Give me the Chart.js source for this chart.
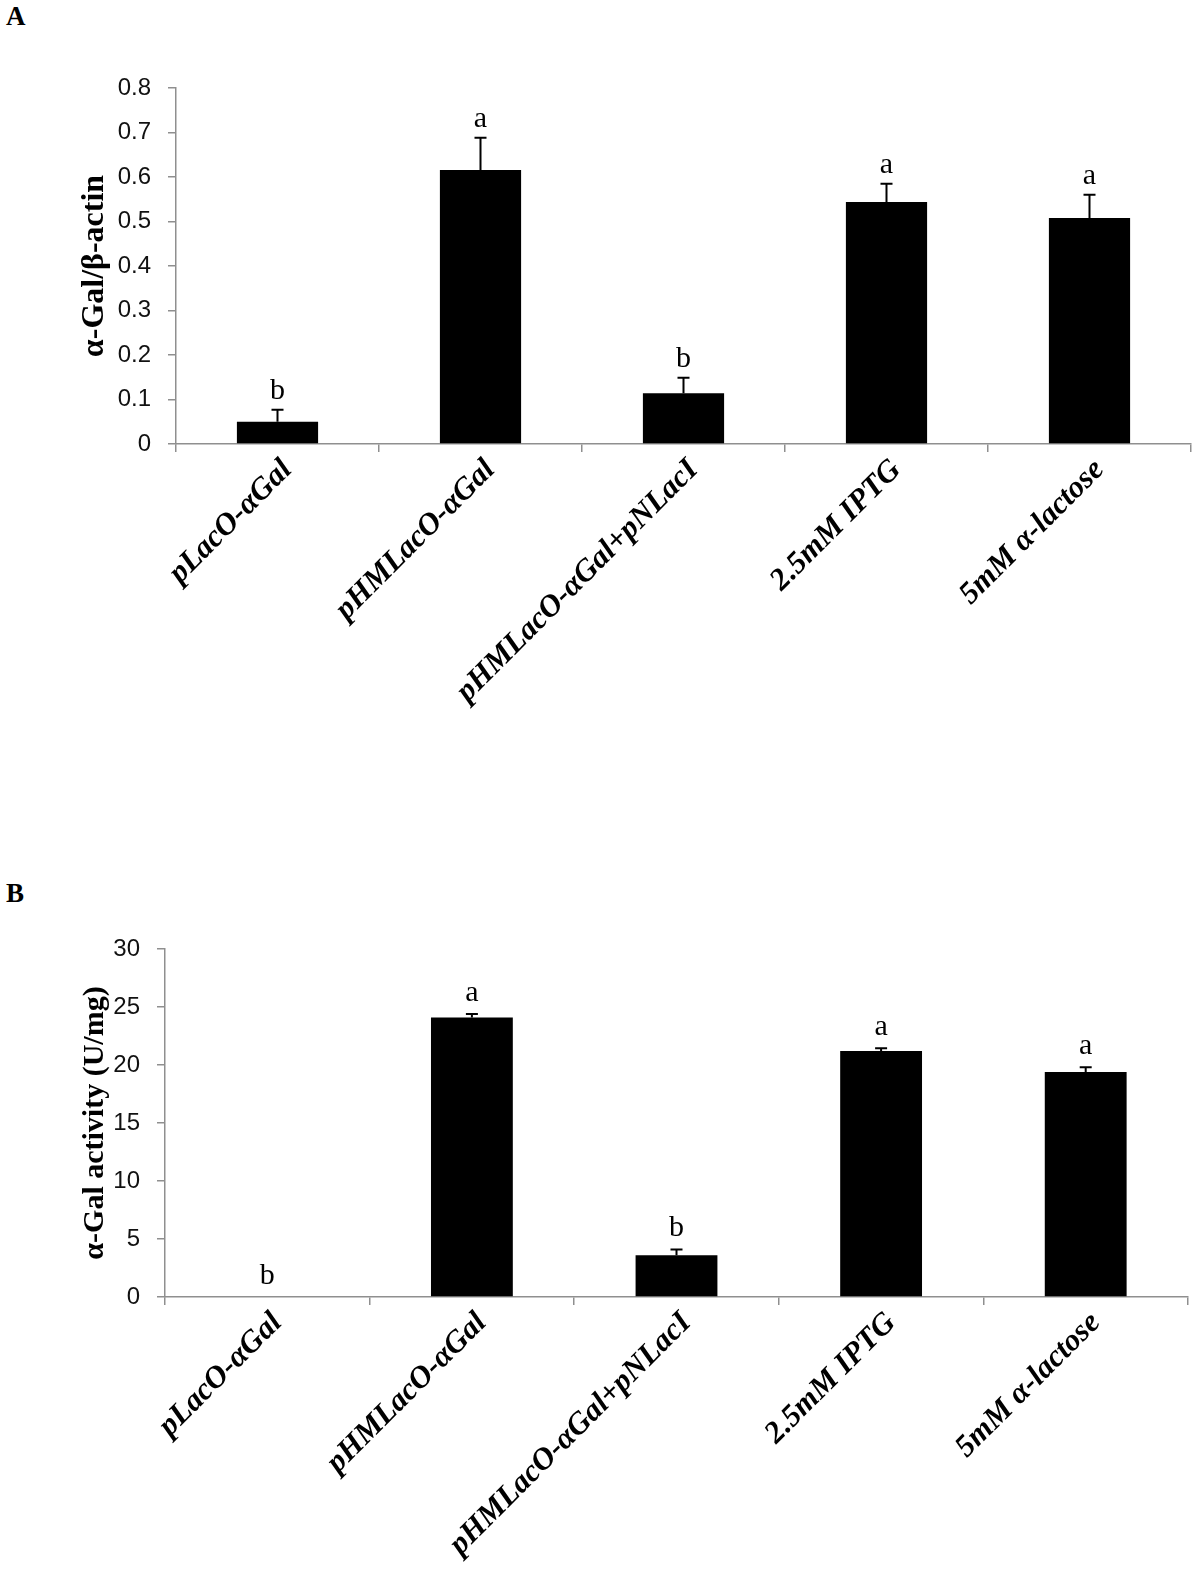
<!DOCTYPE html>
<html><head><meta charset="utf-8">
<script src="https://cdn.jsdelivr.net/npm/chart.js@4.4.1/dist/chart.umd.min.js"></script>
<style>
html,body{margin:0;padding:0;background:#fff;}
body{width:1200px;height:1577px;position:relative;overflow:hidden;}
.panel{position:absolute;left:6px;font:bold 27px "Liberation Serif",serif;color:#000;line-height:1;}
#wa{position:absolute;left:0;top:0;width:1200px;height:780px;}
#wb{position:absolute;left:0;top:800px;width:1200px;height:777px;}
</style></head><body>
<div class="panel" style="top:3px">A</div>
<div class="panel" style="top:880px">B</div>
<div id="wa"><canvas id="ca" width="1200" height="780"></canvas></div>
<div id="wb"><canvas id="cb" width="1200" height="777"></canvas></div>
<script>
const categories = ['pLacO-\u03b1Gal','pHMLacO-\u03b1Gal','pHMLacO-\u03b1Gal+pNLacI','2.5mM IPTG','5mM \u03b1-lactose'];

const ratioValues  = [0.050, 0.616, 0.114, 0.544, 0.508];
const ratioErrors  = [0.027, 0.072, 0.035, 0.041, 0.052];
const ratioLetters = ['b','a','b','a','a'];
const ratioTicks   = [0, 0.1, 0.2, 0.3, 0.4, 0.5, 0.6, 0.7, 0.8];

const activityValues  = [0, 24.1, 3.6, 21.2, 19.4];
const activityErrors  = [0, 0.3, 0.5, 0.25, 0.4];
const activityLetters = ['b','a','b','a','a'];
const activityTicks   = [0, 5, 10, 15, 20, 25, 30];

const AXIS = '#8f8f8f';

const errPlugin = {
  id: 'errLetters',
  afterDatasetsDraw(chart, args, opts) {
    const ctx = chart.ctx, y = chart.scales.y;
    const meta = chart.getDatasetMeta(0);
    const vals = chart.data.datasets[0].data;
    ctx.save();
    ctx.strokeStyle = '#000'; ctx.lineWidth = 2;
    ctx.fillStyle = '#000';
    ctx.font = '30px "Liberation Serif", serif';
    ctx.textAlign = 'center'; ctx.textBaseline = 'alphabetic';
    meta.data.forEach((bar, i) => {
      const e = opts.errors[i];
      const yv = y.getPixelForValue(vals[i]);
      const yt = y.getPixelForValue(vals[i] + e);
      if (e > 0) {
        ctx.beginPath();
        ctx.moveTo(bar.x, yv); ctx.lineTo(bar.x, yt);
        ctx.moveTo(bar.x - 6, yt); ctx.lineTo(bar.x + 6, yt);
        ctx.stroke();
      }
      ctx.fillText(opts.letters[i], bar.x, yt - opts.gap);
    });
    ctx.restore();
  }
};

function makeChart(id, values, errors, letters, yTicks, title, g) {
  return new Chart(document.getElementById(id), {
    type: 'bar',
    data: { labels: categories, datasets: [{ data: values, backgroundColor: '#000', borderWidth: 0, barPercentage: 0.4, categoryPercentage: 1 }] },
    options: {
      responsive: false, animation: false, devicePixelRatio: 1,
      layout: { padding: { top: g.top, right: g.right, bottom: 0, left: 0 } },
      plugins: { legend: { display: false }, tooltip: { enabled: false }, errLetters: { errors, letters, gap: g.gap } },
      scales: {
        x: {
          grid: { drawOnChartArea: false, drawTicks: true, tickLength: 8, color: AXIS, lineWidth: 1.5, offset: true },
          border: { color: AXIS, width: 1.5 },
          ticks: { autoSkip: false, minRotation: 45, maxRotation: 45, padding: 0, labelOffset: 10, color: '#000',
                   font: { family: '"Liberation Serif", serif', size: 31, weight: 'bold', style: 'italic' } },
          afterFit(s) { s.height = g.xh; }
        },
        y: {
          min: yTicks[0], max: yTicks[yTicks.length - 1],
          grid: { drawOnChartArea: false, drawTicks: true, tickLength: 8, color: AXIS, lineWidth: 1.5 },
          border: { color: AXIS, width: 1.5 },
          ticks: { padding: 17, color: '#111', font: { family: '"Liberation Sans", Arial, sans-serif', size: 24 } },
          afterBuildTicks(s) { s.ticks = yTicks.map(v => ({ value: v })); },
          title: { display: true, text: title, color: '#000',
                   font: { family: '"Liberation Serif", serif', size: g.ts, weight: 'bold' },
                   padding: { top: g.tp, bottom: 0 } },
          afterFit(s) { s.width = g.yw; }
        }
      }
    },
    plugins: [errPlugin]
  });
}

makeChart('ca', ratioValues, ratioErrors, ratioLetters, ratioTicks, '\u03b1-Gal/\u03b2-actin',
  { top: 88, right: 9, yw: 176, xh: 780 - 444, tp: 76, ts: 32, gap: 11 });
makeChart('cb', activityValues, activityErrors, activityLetters, activityTicks, '\u03b1-Gal activity (U/mg)',
  { top: 149, right: 12, yw: 165, xh: 777 - 497, tp: 77, ts: 30, gap: 13 });
</script>
</body></html>
